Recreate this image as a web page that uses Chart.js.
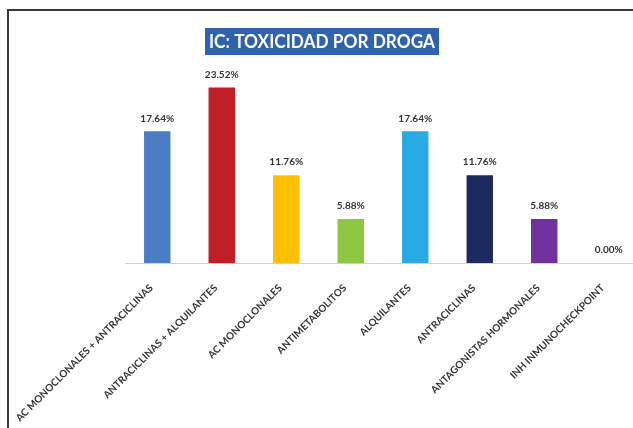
<!DOCTYPE html>
<html>
<head>
<meta charset="utf-8">
<script src="https://cdn.jsdelivr.net/npm/chart.js@4"></script>
<style>
  html, body { margin: 0; padding: 0; overflow: hidden; background: #ffffff; }
  #wrap { position: relative; width: 650px; height: 428px; }
</style>
</head>
<body>
<div id="wrap"><canvas id="c" width="650" height="428"></canvas></div>
<script>
const titleText = "IC: TOXICIDAD POR DROGA";
const categories = [
  "AC MONOCLONALES + ANTRACICLINAS",
  "ANTRACICLINAS + ALQUILANTES",
  "AC MONOCLONALES",
  "ANTIMETABOLITOS",
  "ALQUILANTES",
  "ANTRACICLINAS",
  "ANTAGONISTAS HORMONALES",
  "INH INMUNOCHECKPOINT"
];
const values = [17.64, 23.52, 11.76, 5.88, 17.64, 11.76, 5.88, 0.00];
const barColors = ["#4A7EC2", "#C21E26", "#FFC000", "#8DC63F", "#2AAAE2", "#1C2A60", "#7030A0", "#7F7F7F"];

const framePlugin = {
  id: 'frame',
  beforeDraw(chart) {
    const ctx = chart.ctx;
    ctx.save();
    ctx.fillStyle = '#ffffff';
    ctx.fillRect(0, 0, chart.width, chart.height);
    ctx.strokeStyle = '#3a3a3a';
    ctx.lineWidth = 2;
    ctx.beginPath();
    ctx.moveTo(8, chart.height);
    ctx.lineTo(8, 10);
    ctx.lineTo(chart.width, 10);
    ctx.stroke();
    ctx.restore();
  },
  afterDraw(chart) {
    const ctx = chart.ctx;
    ctx.save();
    ctx.fillStyle = '#2F62AE';
    ctx.fillRect(205, 28, 234, 27);
    ctx.fillStyle = '#ffffff';
    ctx.font = 'bold 18px Lato, "DejaVu Sans", sans-serif';
    ctx.textAlign = 'center';
    ctx.textBaseline = 'middle';
    ctx.fillText(titleText, 322, 42, 226);
    ctx.restore();
  }
};

const labelPlugin = {
  id: 'valueLabels',
  afterDatasetsDraw(chart) {
    const ctx = chart.ctx;
    const meta = chart.getDatasetMeta(0);
    ctx.save();
    ctx.fillStyle = '#333333';
    ctx.font = 'bold 10px Lato, "DejaVu Sans", sans-serif';
    ctx.textAlign = 'center';
    ctx.textBaseline = 'middle';
    meta.data.forEach((bar, i) => {
      ctx.fillText(values[i].toFixed(2) + '%', bar.x, bar.y - 13);
    });
    ctx.restore();
  }
};

new Chart(document.getElementById('c'), {
  type: 'bar',
  data: {
    labels: categories,
    datasets: [{
      data: values,
      backgroundColor: barColors,
      borderWidth: 0,
      categoryPercentage: 1.0,
      barPercentage: 0.41
    }]
  },
  options: {
    responsive: false,
    animation: false,
    events: [],
    layout: { padding: { left: 125, right: 9, top: 39, bottom: 0 } },
    plugins: {
      legend: { display: false },
      tooltip: { enabled: false },
      title: { display: false }
    },
    scales: {
      x: {
        grid: { display: false, drawTicks: false },
        border: { display: true, color: '#D0D0D0', width: 1 },
        ticks: {
          autoSkip: false,
          maxRotation: 45,
          minRotation: 45,
          padding: 19,
          labelOffset: -6,
          color: '#333333',
          font: { family: 'Lato, "DejaVu Sans", sans-serif', size: 10, weight: 'bold' }
        },
        afterFit(scale) {
          scale.height = 165;
          scale.paddingLeft = 0;
          scale.paddingRight = 0;
        }
      },
      y: {
        display: false,
        min: 0,
        max: 30
      }
    }
  },
  plugins: [framePlugin, labelPlugin]
});
</script>
</body>
</html>
